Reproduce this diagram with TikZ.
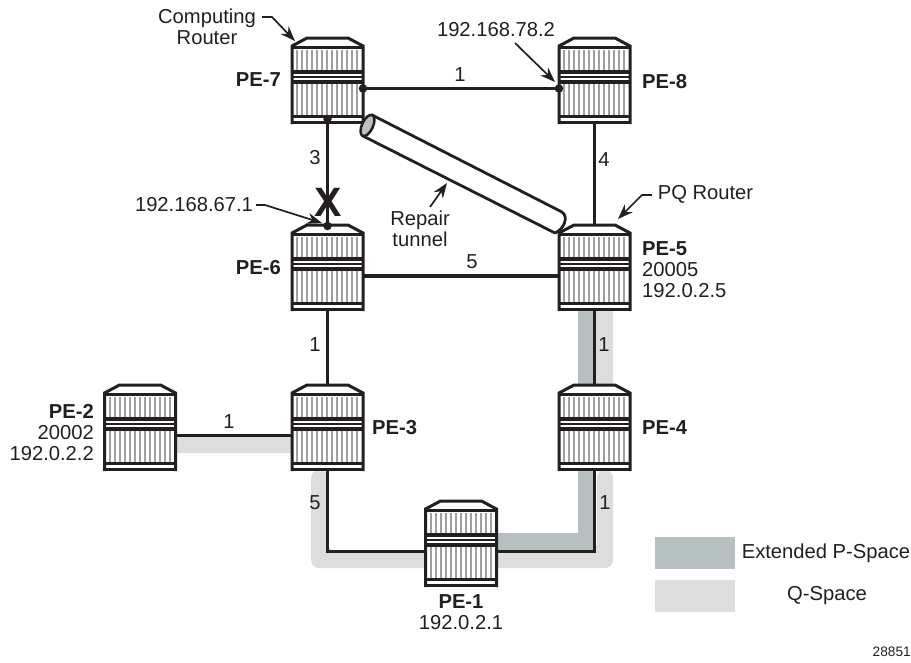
\documentclass[tikz,border=0pt]{standalone}
\usepackage{fontspec}
\setmainfont{Liberation Sans}
\usetikzlibrary{arrows.meta,calc}
\definecolor{extp}{RGB}{183,192,192}
\definecolor{qsp}{RGB}{221,221,221}
\definecolor{ink}{RGB}{35,31,32}
\tikzset{
  routerbox/.style={minimum width=71pt,minimum height=86pt,inner sep=0pt,outer sep=0pt},
  link/.style={draw=ink,line width=3.5pt},
  lbl/.style={font=\fontsize{20.2}{21}\selectfont,text=ink,inner sep=0pt,align=center},
  rname/.style={font=\fontsize{20.2}{21}\selectfont,text=ink,inner sep=0pt},
  note/.style={draw=ink,line width=1.7pt,-{Stealth[length=15pt,width=11pt]}},
  dot/.style={circle,fill=ink,minimum size=8.5pt,inner sep=0pt,outer sep=0pt},
}
\newcommand{\routerdraw}[3]{%
  \node[routerbox] (#1) at (#2,#3+43) {};
  \begin{scope}[shift={(#2-35.5,#3)}]
    \fill[white] (0,8)--(15,0)--(56,0)--(71,8)--(71,86)--(0,86)--cycle;
    \foreach \sx in {5,10,...,66}{
      \draw[gray!75,line width=2pt] (\sx,12)--(\sx,32);
      \draw[gray!75,line width=2pt] (\sx,46)--(\sx,77);
    }
    \fill[ink] (0,32) rectangle (71,36);
    \fill[ink] (0,42) rectangle (71,46);
    \fill[ink] (0,77) rectangle (71,80);
    \fill[ink] (0,83) rectangle (71,86);
    \draw[ink,line width=1.2pt] (0,39)--(71,39);
    \draw[ink,line width=2.2pt] (0,9.5)--(71,9.5);
    \draw[ink,line width=3pt,line join=miter] (0,86)--(0,8)--(15,0)--(56,0)--(71,8)--(71,86);
  \end{scope}%
}
\begin{document}
\begin{tikzpicture}[x=1pt,y=-1pt]
\useasboundingbox (0,0) rectangle (911,662);
% shaded bands
\fill[qsp,rounded corners=8pt] (311,470)--(311,568)--(613,568)--(613,470)--(597,470)--(597,551)--(328,551)--(328,470)--cycle;
\fill[extp] (578,470)--(578,533)--(497,533)--(497,551)--(595,551)--(595,470)--cycle;
\fill[extp] (578,311) rectangle (595,385);
\fill[qsp] (595,311) rectangle (613,385);
\fill[qsp] (175,435) rectangle (292,453);
% routers
\routerdraw{PE-7}{327.5}{38}
\routerdraw{PE-8}{594.5}{38}
\routerdraw{PE-6}{327.5}{225}
\routerdraw{PE-5}{594.5}{225}
\routerdraw{PE-3}{327.5}{385}
\routerdraw{PE-4}{594.5}{385}
\routerdraw{PE-2}{140}{385}
\routerdraw{PE-1}{461}{501}
% links
\node[dot] (d7e) at ([yshift=-7.5pt]PE-7.east) {};
\node[dot] (d8w) at ([yshift=-7.5pt]PE-8.west) {};
\node[dot] (d7s) at ([yshift=5pt]PE-7.south) {};
\node[dot] (d6n) at ([yshift=-1pt]PE-6.north) {};
\draw[link] (d7e.center)--(d8w.center);
\draw[link] (d7s.center)--(d6n.center);
\draw[link] (PE-8.south)--(PE-5.north);
\draw[link] ([yshift=-8pt]PE-6.east)--([yshift=-8pt]PE-5.west);
\draw[link] (PE-6.south)--(PE-3.north);
\draw[link] (PE-5.south)--(PE-4.north);
\draw[link] ([yshift=-7.5pt]PE-2.east)--([yshift=-7.5pt]PE-3.west);
\draw[link,line join=miter] (PE-3.south)|-([yshift=-7.5pt]PE-1.west);
\draw[link,line join=miter] (PE-4.south)|-([yshift=-7.5pt]PE-1.east);
% tunnel
\coordinate (tunA) at (372,115);
\coordinate (tunB) at (562,212);
\coordinate (tunC) at (555,233);
\coordinate (tunD) at (363,136);
\draw[ink,line width=2.8pt,fill=white,line join=round] (tunA)--(tunB) .. controls (569,217) and (564,229) .. (tunC)--(tunD)--cycle;
\draw[ink,line width=2.5pt,fill=gray!50] (367.5,125.5) ellipse[x radius=5.5,y radius=11.5,rotate=-25];
% X mark
\node[font=\fontsize{41}{41}\selectfont\bfseries,text=ink,inner sep=0pt] (xmark) at (328,202) {X};
% link labels
\node[lbl] (l1) at (460,75) {1};
\node[lbl] (l2) at (315,158) {3};
\node[lbl] (l3) at (604,160) {4};
\node[lbl] (l4) at (472,262) {5};
\node[lbl] (l5) at (315,345) {1};
\node[lbl] (l6) at (604,345) {1};
\node[lbl] (l7) at (229,422) {1};
\node[lbl] (l8) at (315,503) {5};
\node[lbl] (l9) at (605,503) {1};
% router labels
\node[rname,anchor=east] (t7) at (281,80) {\bfseries PE-7};
\node[rname,anchor=west] (t8) at (642,82) {\bfseries PE-8};
\node[rname,anchor=east] (t6) at (281,268) {\bfseries PE-6};
\node[rname,anchor=west,align=left] (t5) at (642,270) {\textbf{PE-5}\\20005\\192.0.2.5};
\node[rname,anchor=west] (t3) at (372,428) {\bfseries PE-3};
\node[rname,anchor=west] (t4) at (642,428) {\bfseries PE-4};
\node[rname,anchor=east,align=right] (t2) at (94,433) {\textbf{PE-2}\\20002\\192.0.2.2};
\node[rname,align=center] (t1) at (461,612) {\textbf{PE-1}\\192.0.2.1};
% callouts
\node[lbl] (c1) at (207,26.5) {Computing\\Router};
\coordinate (c1a) at (262,17);
\coordinate (c1b) at (272,17);
\coordinate (c1c) at (295,41);
\draw[note] (c1a)--(c1b)--(c1c);
\node[lbl] (c2) at (496,30) {192.168.78.2};
\coordinate (c2a) at (515,43);
\coordinate (c2c) at (555,82);
\draw[note] (c2a)--(c2c);
\node[lbl] (c3) at (194,205) {192.168.67.1};
\coordinate (c3a) at (256,205);
\coordinate (c3b) at (265,205);
\coordinate (c3c) at (322,223);
\draw[note] (c3a)--(c3b)--(c3c);
\node[lbl] (c4) at (705.5,194) {PQ Router};
\coordinate (c4a) at (652,195);
\coordinate (c4b) at (642,195);
\coordinate (c4c) at (618,219);
\draw[note] (c4a)--(c4b)--(c4c);
\node[lbl] (c5) at (420,229) {Repair\\tunnel};
\coordinate (c5a) at (430,207);
\coordinate (c5c) at (447,183);
\draw[note] (c5a)--(c5c);
% legend
\node[fill=extp,minimum width=80pt,minimum height=32pt,inner sep=0pt] (k1) at (695,553) {};
\node[fill=qsp,minimum width=80pt,minimum height=32pt,inner sep=0pt] (k2) at (695,596) {};
\node[lbl] (k1t) at (826,553) {Extended P-Space};
\node[lbl] (k2t) at (827,596) {Q-Space};
\node[font=\fontsize{13.7}{16}\selectfont,text=ink,inner sep=0pt,anchor=east] (fig) at (911,652) {28851};
\end{tikzpicture}
\end{document}
